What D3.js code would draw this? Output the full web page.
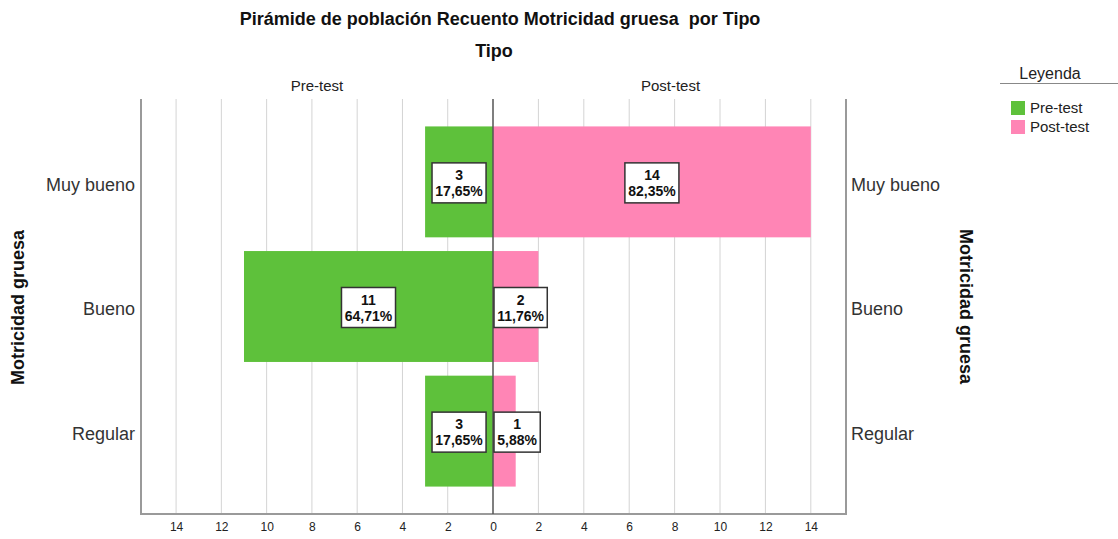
<!DOCTYPE html>
<html>
<head>
<meta charset="utf-8">
<script src="https://cdn.jsdelivr.net/npm/d3@7"></script>
<style>
  body { margin: 0; background: #fff; }
  text { font-family: Arial, "Liberation Sans", sans-serif; white-space: pre; }
</style>
</head>
<body>
<svg id="chart"></svg>
<script>
// Data
const categories = ["Muy bueno", "Bueno", "Regular"];
const groups = ["Pre-test", "Post-test"];
const preCounts = [3, 11, 3];
const postCounts = [14, 2, 1];
const prePct = ["17,65%", "64,71%", "17,65%"];
const postPct = ["82,35%", "11,76%", "5,88%"];
const tickValues = [14, 12, 10, 8, 6, 4, 2, 0];

const width = 1118;
const height = 539;
const colors = { "Pre-test": "#5ec13b", "Post-test": "#ff85b5" };

const svg = d3.select("#chart").attr("width", width).attr("height", height);

// Plot frame
const plot = { left: 141, right: 846, top: 99, bottom: 514 };
const zeroX = 493;

// Scales (left half mirrored)
const xLeft = d3.scaleLinear().domain([0, 15.55]).range([zeroX, plot.left]);
const xRight = d3.scaleLinear().domain([0, 15.55]).range([zeroX, plot.right]);
const y = d3.scaleBand().domain(categories).range([plot.top, plot.bottom])
  .paddingInner(0.11).paddingOuter(0.22);

// Gridlines
const grid = svg.append("g");
grid.selectAll(".gl").data(tickValues.filter(d => d > 0)).join("line")
  .attr("x1", d => xLeft(d)).attr("x2", d => xLeft(d))
  .attr("y1", plot.top).attr("y2", plot.bottom)
  .attr("stroke", "#d4d4d4");
grid.selectAll(".gr").data(tickValues.filter(d => d > 0)).join("line")
  .attr("x1", d => xRight(d)).attr("x2", d => xRight(d))
  .attr("y1", plot.top).attr("y2", plot.bottom)
  .attr("stroke", "#d4d4d4");

// Rows
const rows = categories.map((c, i) => ({
  cat: c, pre: preCounts[i], post: postCounts[i], prePct: prePct[i], postPct: postPct[i]
}));

// Bars
svg.selectAll(".barPre").data(rows).join("rect")
  .attr("class", "barPre")
  .attr("x", d => xLeft(d.pre))
  .attr("y", d => y(d.cat))
  .attr("width", d => xLeft(0) - xLeft(d.pre))
  .attr("height", y.bandwidth())
  .attr("fill", colors["Pre-test"]);

svg.selectAll(".barPost").data(rows).join("rect")
  .attr("class", "barPost")
  .attr("x", xRight(0))
  .attr("y", d => y(d.cat))
  .attr("width", d => xRight(d.post) - xRight(0))
  .attr("height", y.bandwidth())
  .attr("fill", colors["Post-test"]);

// Frame (left, right, bottom)
svg.append("path")
  .attr("d", `M${plot.left},${plot.top}V${plot.bottom}H${plot.right}V${plot.top}`)
  .attr("fill", "none").attr("stroke", "#9a9a9a").attr("stroke-width", 2);

// Center line
svg.append("line")
  .attr("x1", zeroX).attr("x2", zeroX)
  .attr("y1", plot.top).attr("y2", plot.bottom)
  .attr("stroke", "#555").attr("stroke-width", 1.5);

// Bottom axes
const axisL = d3.axisBottom(xLeft).tickValues(tickValues).tickSize(0).tickPadding(8);
const axisR = d3.axisBottom(xRight).tickValues(tickValues.filter(d => d > 0)).tickSize(0).tickPadding(8);
[axisL, axisR].forEach(a => {
  const g = svg.append("g").attr("transform", `translate(0,${plot.bottom})`).call(a);
  g.select(".domain").remove();
  g.selectAll("text").attr("font-size", 12).attr("fill", "#222")
    .attr("font-family", "Arial, 'Liberation Sans', sans-serif");
});

// Category labels
const yl = svg.append("g").attr("transform", `translate(${plot.left - 6},3)`)
  .call(d3.axisLeft(y).tickSize(0).tickPadding(0));
yl.select(".domain").remove();
yl.selectAll("text").attr("font-size", 18).attr("fill", "#333")
  .attr("font-family", "Arial, 'Liberation Sans', sans-serif");

const yr = svg.append("g").attr("transform", `translate(${plot.right + 5},3)`)
  .call(d3.axisRight(y).tickSize(0).tickPadding(0));
yr.select(".domain").remove();
yr.selectAll("text").attr("font-size", 18).attr("fill", "#333")
  .attr("font-family", "Arial, 'Liberation Sans', sans-serif");

// Value labels
function addLabel(cx, cy, count, pct, minX) {
  const g = svg.append("g");
  const t = g.append("text").attr("text-anchor", "middle")
    .attr("font-size", 14).attr("font-weight", "bold").attr("fill", "#111");
  t.append("tspan").attr("x", 0).attr("y", -3).text(count);
  t.append("tspan").attr("x", 0).attr("y", 13).text(pct);
  const w = t.node().getBBox().width + 6;
  const h = 40;
  let x = cx;
  if (minX !== undefined && x - w / 2 < minX) x = minX + w / 2;
  g.insert("rect", "text")
    .attr("x", -w / 2).attr("y", -h / 2).attr("width", w).attr("height", h)
    .attr("fill", "#fff").attr("stroke", "#333").attr("stroke-width", 1.5);
  g.attr("transform", `translate(${x},${cy + 1})`);
}
rows.forEach(d => {
  const cy = y(d.cat) + y.bandwidth() / 2;
  addLabel((xLeft(d.pre) + xLeft(0)) / 2, cy, d.pre, d.prePct);
  addLabel((xRight(0) + xRight(d.post)) / 2, cy, d.post, d.postPct, xRight(0) + 1);
});

// Titles
svg.append("text").attr("x", 500).attr("y", 25).attr("text-anchor", "middle")
  .attr("font-size", 18).attr("font-weight", "bold").attr("fill", "#111")
  .text("Pirámide de población Recuento Motricidad gruesa  por Tipo");
svg.append("text").attr("x", 494).attr("y", 57).attr("text-anchor", "middle")
  .attr("font-size", 18).attr("font-weight", "bold").attr("fill", "#111")
  .text("Tipo");
svg.append("text").attr("x", (plot.left + zeroX) / 2).attr("y", 91).attr("text-anchor", "middle")
  .attr("font-size", 15).attr("fill", "#222").text(groups[0]);
svg.append("text").attr("x", (zeroX + plot.right) / 2 + 1).attr("y", 91).attr("text-anchor", "middle")
  .attr("font-size", 15).attr("fill", "#222").text(groups[1]);

// Axis titles
const midY = (plot.top + plot.bottom) / 2;
svg.append("text").attr("transform", `translate(24,${midY + 1}) rotate(-90)`)
  .attr("text-anchor", "middle").attr("font-size", 18).attr("font-weight", "bold").attr("fill", "#111")
  .text("Motricidad gruesa");
svg.append("text").attr("transform", `translate(960,${midY}) rotate(90)`)
  .attr("text-anchor", "middle").attr("font-size", 18).attr("font-weight", "bold").attr("fill", "#111")
  .text("Motricidad gruesa");

// Legend
const leg = svg.append("g");
leg.append("text").attr("x", 1050).attr("y", 79).attr("text-anchor", "middle")
  .attr("font-family", "'Liberation Serif', 'DejaVu Serif', serif").attr("font-size", 16).attr("fill", "#222")
  .text("Leyenda");
leg.append("line").attr("x1", 1000).attr("x2", 1118).attr("y1", 83.5).attr("y2", 83.5)
  .attr("stroke", "#888");
leg.selectAll(".sw").data(groups).join("rect")
  .attr("x", 1011).attr("y", (d, i) => 101 + i * 19).attr("width", 14).attr("height", 14)
  .attr("fill", d => colors[d]);
leg.selectAll(".lt").data(groups).join("text")
  .attr("x", 1030).attr("y", (d, i) => 113 + i * 19)
  .attr("font-size", 15).attr("fill", "#222").text(d => d);
</script>
</body>
</html>
